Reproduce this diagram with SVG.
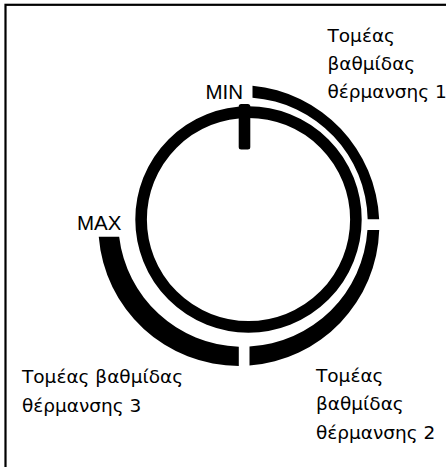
<svg xmlns="http://www.w3.org/2000/svg" width="446" height="467" viewBox="0 0 446 467">
  <style>
    .lbl { font-family: "DejaVu Sans", "Liberation Sans", sans-serif; font-size: 18.5px; fill: #000; }
    .mark { font-family: "Liberation Sans", Arial, sans-serif; font-size: 20.5px; fill: #000; }
    .band { fill: #000; stroke: none; }
  </style>
  <rect x="0" y="0" width="446" height="467" fill="#fff"/>
  <rect id="frame" x="5.5" y="4.8" width="470" height="490" fill="none" stroke="#000" stroke-width="2.2"/>

  <g id="dial">
    <circle cx="248.5" cy="219.5" r="107.4" fill="none" stroke="#000" stroke-width="11.6"/>
    <rect x="238.7" y="104" width="11.6" height="45.5" rx="2.5" fill="#000"/>
  </g>

  <g id="sector1">
    <path class="band" d="M 252.5 85.67 A 140.5 140.5 0 0 1 379.16 219.3 L 367.67 219.3 A 124.7 124.7 0 0 0 252.5 97.66 Z"/>
    <text class="lbl" x="327.5" y="41.7">Τομέας</text>
    <text class="lbl" x="327.5" y="70">βαθμίδας</text>
    <text class="lbl" x="327.5" y="98.3">θέρμανσης 1</text>
  </g>

  <g id="sector2">
    <path class="band" d="M 379.23 230 A 140.5 140.5 0 0 1 249.5 365.59 L 249.5 346.53 A 124.7 124.7 0 0 0 367.44 230 Z"/>
    <text class="lbl" x="316" y="382">Τομέας</text>
    <text class="lbl" x="316" y="410.3">βαθμίδας</text>
    <text class="lbl" x="316" y="438.6">θέρμανσης 2</text>
  </g>

  <g id="sector3">
    <path class="band" d="M 238.8 366 A 140.5 140.5 0 0 1 98.75 236.7 L 119.17 236.7 A 124.7 124.7 0 0 0 238.8 346.63 Z"/>
    <text class="lbl" x="22" y="383.3">Τομέας βαθμίδας</text>
    <text class="lbl" x="22" y="411.7">θέρμανσης 3</text>
  </g>

  <g id="min">
    <text class="mark" x="205.5" y="99.3">MIN</text>
  </g>
  <g id="max">
    <text class="mark" x="77" y="230">MAX</text>
  </g>

  <g id="connectors"></g>
</svg>
